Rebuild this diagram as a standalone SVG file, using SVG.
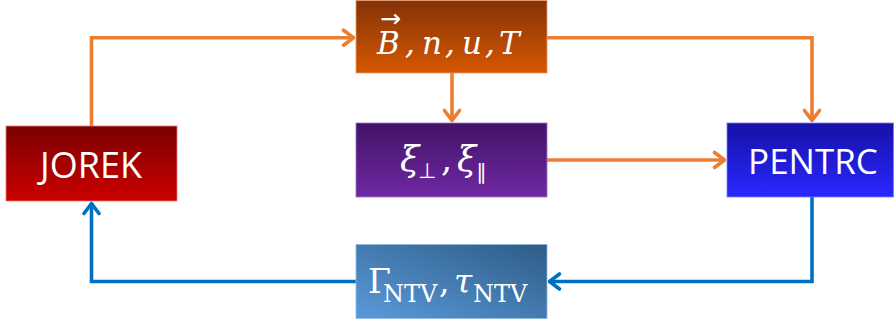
<svg xmlns="http://www.w3.org/2000/svg" width="894" height="324" viewBox="0 0 894 324">
  <defs>
    <linearGradient id="gJorek" x1="0" y1="0" x2="0" y2="1">
      <stop offset="0" stop-color="#7C0000"/>
      <stop offset="1" stop-color="#CC0000"/>
    </linearGradient>
    <linearGradient id="gB" x1="0" y1="0" x2="0" y2="1">
      <stop offset="0" stop-color="#843208"/>
      <stop offset="1" stop-color="#D65800"/>
    </linearGradient>
    <linearGradient id="gXi" x1="0" y1="0" x2="0" y2="1">
      <stop offset="0" stop-color="#421366"/>
      <stop offset="1" stop-color="#7028A4"/>
    </linearGradient>
    <linearGradient id="gPen" x1="0" y1="0" x2="0" y2="1">
      <stop offset="0" stop-color="#1810A6"/>
      <stop offset="1" stop-color="#2828FF"/>
    </linearGradient>
    <linearGradient id="gGam" x1="0" y1="1" x2="1" y2="0">
      <stop offset="0" stop-color="#5A9ADA"/>
      <stop offset="1" stop-color="#2E5C86"/>
    </linearGradient>
    <marker id="aO" markerUnits="userSpaceOnUse" markerWidth="30" markerHeight="30" refX="0" refY="0" viewBox="-15 -15 30 30" orient="auto" overflow="visible">
      <path d="M -10 -7.5 L 0 0 L -10 7.5" fill="none" stroke="#ED7D31" stroke-width="3.6" stroke-linecap="round" stroke-linejoin="round"/>
    </marker>
    <marker id="aB" markerUnits="userSpaceOnUse" markerWidth="30" markerHeight="30" refX="0" refY="0" viewBox="-15 -15 30 30" orient="auto" overflow="visible">
      <path d="M -10 -7.5 L 0 0 L -10 7.5" fill="none" stroke="#0070C0" stroke-width="3.6" stroke-linecap="round" stroke-linejoin="round"/>
    </marker>
  </defs>
  <style>
    .box { stroke-width: 0.8; }
    .lbl { font-family: "Open Sans", "Liberation Sans", sans-serif; fill: #ffffff; text-anchor: middle; }
    .m { font-family: "DejaVu Serif", "Liberation Serif", serif; fill: #ffffff; }
    .it { font-style: italic; }
    .up { font-style: normal; }
    .sym { font-family: "DejaVu Sans", sans-serif; font-style: normal; }
    .co { fill: none; stroke: #ED7D31; stroke-width: 3.6; }
    .cb { fill: none; stroke: #0070C0; stroke-width: 3.6; }
  </style>

  <g id="connectors">
    <path class="co" d="M 91.5 126 V 37.7 H 353.5" marker-end="url(#aO)"/>
    <path class="co" d="M 547 37.7 H 812 V 120.5" marker-end="url(#aO)"/>
    <path class="co" d="M 452 73 V 120.5" marker-end="url(#aO)"/>
    <path class="co" d="M 547 160 H 724.5" marker-end="url(#aO)"/>
    <path class="cb" d="M 812 197 V 281.5 H 549.5" marker-end="url(#aB)"/>
    <path class="cb" d="M 356 281.5 H 91.5 V 203.5" marker-end="url(#aB)"/>
  </g>

  <g id="jorek">
    <rect class="box" x="6" y="126" width="171" height="75" fill="url(#gJorek)" stroke="#E87A7A"/>
    <text class="lbl" x="91" y="178" font-size="36">JOREK</text>
  </g>

  <g id="fields">
    <rect class="box" x="356" y="0.5" width="191" height="72.5" fill="url(#gB)" stroke="#E89A6A"/>
    <text class="m it" font-size="31"><tspan class="sym" x="380" y="27" font-size="25">→</tspan><tspan x="377" y="54">B</tspan><tspan x="405" y="54">,</tspan><tspan x="422" y="54">n</tspan><tspan x="445" y="54">,</tspan><tspan x="462" y="54">u</tspan><tspan x="485" y="54">,</tspan><tspan x="499" y="54">T</tspan></text>
  </g>

  <g id="xi">
    <rect class="box" x="356" y="123" width="191" height="74" fill="url(#gXi)" stroke="#A070C8"/>
    <text class="m it" font-size="35"><tspan x="400" y="171">ξ</tspan><tspan class="sym" x="418" y="178" font-size="21">⊥</tspan><tspan class="up" x="441" y="171">,</tspan><tspan x="457" y="171">ξ</tspan><tspan class="sym" x="476" y="179" font-size="21">∥</tspan></text>
  </g>

  <g id="pentrc">
    <rect class="box" x="727" y="123" width="166.5" height="74" fill="url(#gPen)" stroke="#7A7AFF"/>
    <text class="lbl" x="813" y="174" font-size="35">PENTRC</text>
  </g>

  <g id="ntv">
    <rect class="box" x="356" y="244.5" width="191" height="74" fill="url(#gGam)" stroke="#8CB8E2"/>
    <text class="m" font-size="33"><tspan x="368" y="293">Γ</tspan><tspan x="383" y="302" font-size="24">NTV</tspan><tspan x="439" y="293">,</tspan><tspan class="it" x="454" y="293">τ</tspan><tspan x="473" y="302" font-size="24">NTV</tspan></text>
  </g>
</svg>
